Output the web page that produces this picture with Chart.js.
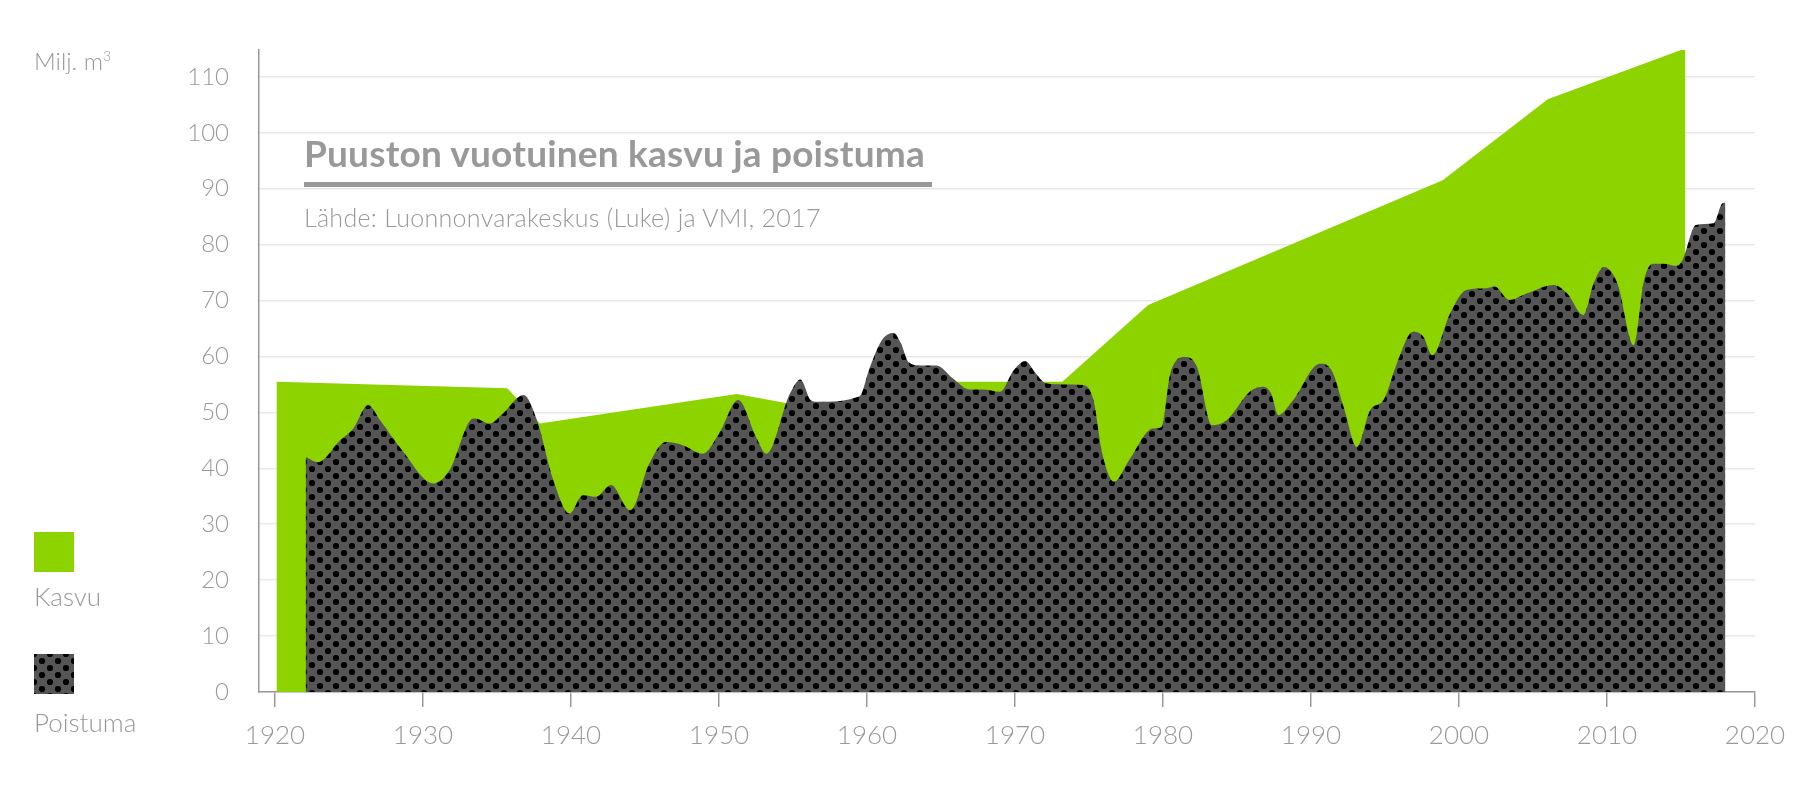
<!DOCTYPE html>
<html>
<head>
<meta charset="utf-8">
<script src="https://cdn.jsdelivr.net/npm/chart.js@4.4.1/dist/chart.umd.min.js"></script>
<style>
  body { margin: 0; background: #fff; }
  #wrap { position: relative; width: 1820px; height: 800px; font-family: 'Lato', sans-serif; color: #999; }
  #chart { position: absolute; left: 0; top: 0; }
  .txt { position: absolute; white-space: nowrap; font-weight: 300; }
  #unit { left: 34px; top: 48px; font-size: 24px; line-height: 26px; }
  #unit sup { font-size: 14px; vertical-align: 9px; line-height: 0; }
  #title { left: 304px; top: 132px; font-size: 37px; line-height: 42px; font-weight: 700; letter-spacing: 0.2px; }
  #rule { position: absolute; left: 304px; top: 182px; width: 628px; height: 5px; background: #999; }
  #source { left: 304px; top: 202px; font-size: 25px; line-height: 30px; letter-spacing: 0.3px; }
  #sqKasvu { position: absolute; left: 34px; top: 532px; width: 40px; height: 40px; background: #8cd300; }
  #lblKasvu { left: 34px; top: 581px; font-size: 26px; line-height: 30px; }
  #sqPoistuma { position: absolute; left: 34px; top: 654px; }
  #lblPoistuma { left: 34px; top: 707px; font-size: 26px; line-height: 30px; }
</style>
</head>
<body>
<div id="wrap">
  <canvas id="chart" width="1820" height="800"></canvas>
  <div class="txt" id="unit">Milj. m<sup>3</sup></div>
  <div class="txt" id="title">Puuston vuotuinen kasvu ja poistuma</div>
  <div id="rule"></div>
  <div class="txt" id="source">Lähde: Luonnonvarakeskus (Luke) ja VMI, 2017</div>
  <div id="sqKasvu"></div>
  <div class="txt" id="lblKasvu">Kasvu</div>
  <canvas id="sqPoistuma" width="40" height="40"></canvas>
  <div class="txt" id="lblPoistuma">Poistuma</div>
</div>
<script>
// Kasvu (growth), straight segments between inventory points
const kasvuYears = [1920.1, 1935.7, 1937.9, 1951.2, 1954.7, 1960.0, 1965.8, 1973.2, 1979.0, 1998.9, 2006.0, 2015.3];
const kasvuValues = [55.5, 54.3, 48.0, 53.3, 51.6, 51.8, 55.5, 55.5, 69.2, 91.5, 106.0, 115.1];

// Poistuma (drain), smooth curve
const poistumaYears = [
  1922.07, 1922.9, 1924.4, 1925.3, 1926.3, 1927.1, 1928.6, 1930.7, 1931.8, 1933.2,
  1933.5, 1934.5, 1935.4, 1936.8, 1937.7, 1938.8, 1939.9, 1940.8, 1941.7, 1942.7,
  1944.0, 1945.3, 1946.4, 1947.6, 1948.9, 1950.0, 1951.3, 1952.5, 1953.2, 1954.8,
  1955.5, 1956.2, 1956.6, 1959.5, 1960.2, 1961.0, 1961.8, 1962.3, 1962.8, 1963.6,
  1964.7, 1965.8, 1966.9, 1967.8, 1969.0, 1969.9, 1970.7, 1971.4, 1972.1, 1973.2,
  1974.6, 1975.3, 1975.9, 1976.7, 1977.7, 1979.3, 1979.9, 1980.5, 1981.5, 1982.3,
  1983.3, 1984.3, 1985.9, 1986.8, 1987.3, 1987.8, 1988.8, 1990.6, 1991.4, 1992.2,
  1993.1, 1994.0, 1994.9, 1995.8, 1996.9, 1997.6, 1998.2, 1999.4, 2000.5, 2001.9,
  2002.4, 2003.4, 2004.6, 2006.4, 2007.3, 2008.4, 2009.1, 2009.8, 2010.7, 2011.8,
  2012.5, 2013.1, 2013.8, 2014.7, 2015.1, 2016.0, 2017.2, 2017.8, 2018.0
];
const poistumaValues = [
  42.0, 41.1, 45.0, 47.1, 51.3, 48.6, 43.2, 37.3, 39.7, 48.6,
  48.9, 48.0, 49.8, 53.1, 48.6, 37.9, 31.9, 35.2, 34.9, 37.0,
  32.5, 40.9, 44.7, 44.1, 42.6, 46.2, 52.2, 45.6, 42.6, 53.4,
  55.9, 52.2, 51.9, 52.9, 58.1, 62.9, 64.2, 62.3, 59.0, 58.4,
  58.4, 56.1, 54.1, 54.1, 53.7, 57.5, 59.2, 57.0, 55.2, 55.0,
  54.9, 52.2, 42.6, 37.6, 41.4, 47.1, 47.4, 57.0, 59.9, 58.1,
  47.7, 48.6, 53.8, 54.6, 53.4, 49.5, 52.2, 58.7, 57.5, 51.0,
  43.8, 50.4, 52.2, 58.7, 64.4, 63.5, 60.2, 67.7, 71.9, 72.2,
  72.5, 70.1, 71.3, 72.8, 71.3, 67.4, 73.1, 76.0, 73.1, 62.0,
  73.6, 76.6, 76.6, 76.2, 77.2, 83.5, 83.8, 87.4, 87.5
];

const xTicks = [1920, 1930, 1940, 1950, 1960, 1970, 1980, 1990, 2000, 2010, 2020];
const yTicks = [0, 10, 20, 30, 40, 50, 60, 70, 80, 90, 100, 110];

const green = '#8cd300';
const grey = '#999';

// dotted fill used for poistuma
function dotPattern(ctx) {
  const tile = document.createElement('canvas');
  tile.width = 16;
  tile.height = 14;
  const t = tile.getContext('2d');
  t.fillStyle = '#555';
  t.fillRect(0, 0, 16, 14);
  t.fillStyle = '#000';
  [[0, 0], [16, 0], [0, 14], [16, 14], [8, 7]].forEach(([x, y]) => {
    t.beginPath();
    t.arc(x, y, 3.1, 0, Math.PI * 2);
    t.fill();
  });
  return ctx.createPattern(tile, 'repeat');
}

// legend square
const sq = document.getElementById('sqPoistuma').getContext('2d');
sq.fillStyle = dotPattern(sq);
sq.fillRect(0, 0, 40, 40);

const ctx = document.getElementById('chart').getContext('2d');
const toPoints = (xs, ys) => xs.map((x, i) => ({ x: x, y: ys[i] }));

Chart.defaults.font.family = 'Lato';
Chart.defaults.font.weight = '300';
Chart.defaults.color = grey;

new Chart(ctx, {
  type: 'line',
  data: {
    datasets: [{
      label: 'Poistuma',
      data: toPoints(poistumaYears, poistumaValues),
      backgroundColor: dotPattern(ctx),
      borderWidth: 0,
      pointRadius: 0,
      fill: 'origin',
      cubicInterpolationMode: 'monotone',
      order: 0
    }, {
      label: 'Kasvu',
      data: toPoints(kasvuYears, kasvuValues),
      backgroundColor: green,
      borderWidth: 0,
      pointRadius: 0,
      fill: 'origin',
      tension: 0,
      clip: false,
      order: 1
    }]
  },
  options: {
    responsive: false,
    animation: false,
    layout: { padding: { top: 50, right: 65, bottom: 0, left: 0 } },
    plugins: { legend: { display: false }, tooltip: { enabled: false } },
    scales: {
      x: {
        type: 'linear',
        min: 1918.92,
        max: 2020,
        afterBuildTicks: (scale) => { scale.ticks = xTicks.map(v => ({ value: v })); },
        afterFit: (scale) => { scale.height = 108; },
        grid: { drawOnChartArea: false, drawTicks: true, tickLength: 15, color: grey, lineWidth: 1.5 },
        border: { color: grey, width: 1.5 },
        ticks: { font: { size: 26 }, padding: 13, maxRotation: 0, callback: (v) => String(v) }
      },
      y: {
        min: 0,
        max: 114.8,
        afterBuildTicks: (scale) => { scale.ticks = yTicks.map(v => ({ value: v })); },
        afterFit: (scale) => { scale.width = 259; },
        grid: { drawTicks: false, color: '#e8e8e8', lineWidth: 1.5 },
        border: { color: grey, width: 1.5 },
        ticks: { font: { size: 24 }, padding: 30 }
      }
    }
  }
});
</script>
</body>
</html>
